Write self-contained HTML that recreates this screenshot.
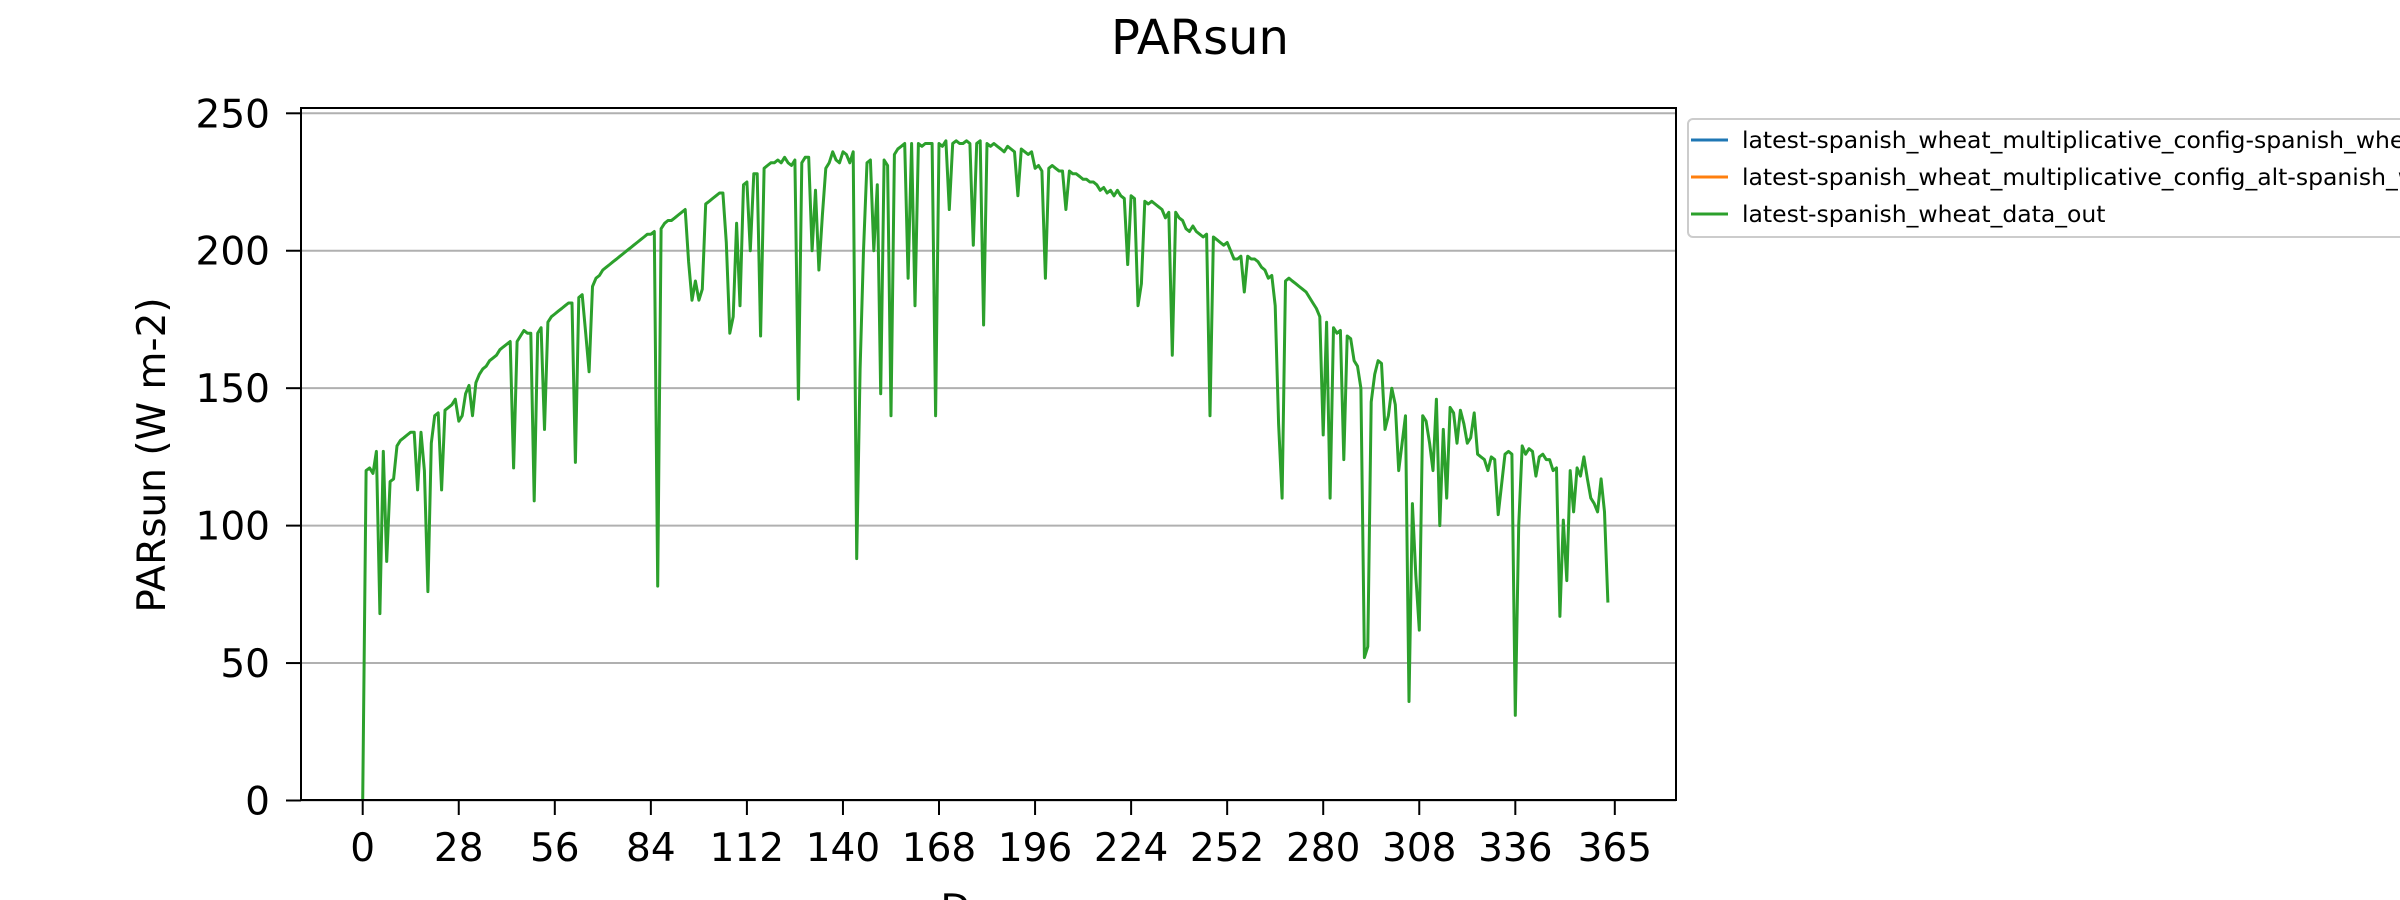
<!DOCTYPE html>
<html><head><meta charset="utf-8"><style>
html,body{margin:0;padding:0;background:#fff;}
svg{display:block;font-family:"DejaVu Sans","Liberation Sans",sans-serif;}
</style></head><body>
<svg id="chart" width="2400" height="900" viewBox="0 0 2400 900">
<text x="1200" y="54" font-size="48" text-anchor="middle">PARsun</text>
<g id="grid"></g>
<g id="series"></g>
<rect x="301" y="108" width="1375" height="692" fill="none" stroke="#000" stroke-width="2"/>
<g id="xticks"></g>
<g id="yticks"></g>
<text x="989" y="922" font-size="39" text-anchor="middle">Days</text>
<text transform="translate(165,455) rotate(-90)" font-size="39" text-anchor="middle">PARsun (W m-2)</text>
<g>
<rect x="1688" y="119" width="730" height="118" rx="5" fill="#fff" stroke="#ccc" stroke-width="2"/>
<line x1="1691" y1="140" x2="1728" y2="140" stroke="#1f77b4" stroke-width="3"/>
<text x="1742" y="148" font-size="23.5">latest-spanish_wheat_multiplicative_config-spanish_wheat</text>
<line x1="1691" y1="177" x2="1728" y2="177" stroke="#ff7f0e" stroke-width="3"/>
<text x="1742" y="185" font-size="23.5">latest-spanish_wheat_multiplicative_config_alt-spanish_wheat</text>
<line x1="1691" y1="214" x2="1728" y2="214" stroke="#2ca02c" stroke-width="3"/>
<text x="1742" y="222" font-size="23.5">latest-spanish_wheat_data_out</text>
</g>
</svg>
<script>
const xTicks=[0,28,56,84,112,140,168,196,224,252,280,308,336,365];
const yTicks=[0,50,100,150,200,250];
const parsun=[
0,120,121,119,127,68,127,87,116,117,
129,131,132,133,134,134,113,134,120,76,
130,140,141,113,142,143,144,146,138,140,
148,151,140,152,155,157,158,160,161,162,
164,165,166,167,121,167,169,171,170,170,
109,170,172,135,174,176,177,178,179,180,
181,181,123,183,184,170,156,187,190,191,
193,194,195,196,197,198,199,200,201,202,
203,204,205,206,206,207,78,208,210,211,
211,212,213,214,215,196,182,189,182,186,
217,218,219,220,221,221,203,170,176,210,
180,224,225,200,228,228,169,230,231,232,
232,233,232,234,232,231,233,146,232,234,
234,200,222,193,213,230,232,236,233,232,
236,235,232,236,88,157,200,232,233,200,
224,148,233,231,140,235,237,238,239,190,
239,180,239,238,239,239,239,140,239,238,
240,215,239,240,239,239,240,239,202,239,
240,173,239,238,239,238,237,236,238,237,
236,220,237,236,235,236,230,231,229,190,
230,231,230,229,229,215,229,228,228,227,
226,226,225,225,224,222,223,221,222,220,
222,220,219,195,220,219,180,188,218,217,
218,217,216,215,212,214,162,214,212,211,
208,207,209,207,206,205,206,140,205,204,
203,202,203,200,197,197,198,185,198,197,
197,196,194,193,190,191,180,137,110,189,
190,189,188,187,186,185,183,181,179,176,
133,174,110,172,170,171,124,169,168,160,
158,150,52,56,145,155,160,159,135,140,
150,144,120,130,140,36,108,82,62,140,
138,130,120,146,100,135,110,143,141,130,
142,137,130,132,141,126,125,124,120,125,
124,104,115,126,127,126,31,100,129,126,
128,127,118,125,126,124,124,120,121,67,
102,80,120,105,121,118,125,117,110,108,
105,117,105,72];
const NS="http://www.w3.org/2000/svg";
const X=d=>362.7+(d/365)*(1614.8-362.7);
const Y=v=>800.5-(v/250)*687.2;
function mk(tag,attrs,parent){const e=document.createElementNS(NS,tag);for(const k in attrs)e.setAttribute(k,attrs[k]);parent.appendChild(e);return e;}
const grid=document.getElementById('grid'),yt=document.getElementById('yticks'),xt=document.getElementById('xticks'),ser=document.getElementById('series');
yTicks.forEach(v=>{
  const g=mk('line',{x1:301,x2:1676,y1:Y(v),y2:Y(v),stroke:'#b0b0b0','stroke-width':2},grid);
  
  
  const t=mk('line',{x1:286,x2:301,y1:Y(v),y2:Y(v),stroke:'#000','stroke-width':2},yt);
  
  
  const l=mk('text',{x:270,y:Y(v)+14,'font-size':39,'text-anchor':'end'},yt);
  l.textContent=v;
  
  
});
xTicks.forEach(v=>{
  const t=mk('line',{x1:X(v),x2:X(v),y1:800,y2:815,stroke:'#000','stroke-width':2},xt);
  
  
  const l=mk('text',{x:X(v),y:861,'font-size':39,'text-anchor':'middle'},xt);
  l.textContent=v;
  
  
});
const pts=parsun.map((v,i)=>X(i).toFixed(1)+','+Y(v).toFixed(1)).join(' ');
const line=mk('polyline',{points:pts,fill:'none',stroke:'#2ca02c','stroke-width':3,'stroke-linejoin':'round'},ser);


</script>
</body></html>
